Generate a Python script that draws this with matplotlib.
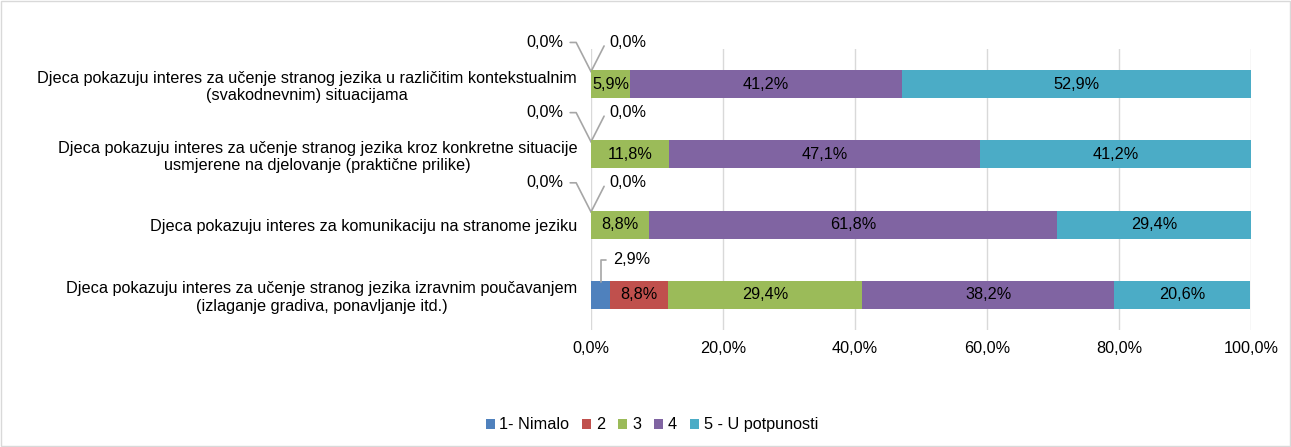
import numpy as np
import matplotlib.pyplot as plt
from matplotlib.patches import Rectangle

plt.rcParams['font.family'] = ['Liberation Sans', 'DejaVu Sans']
FS = 11.7

categories = [
    "Djeca pokazuju interes za učenje stranog jezika u različitim kontekstualnim\n(svakodnevnim) situacijama",
    "Djeca pokazuju interes za učenje stranog jezika kroz konkretne situacije\nusmjerene na djelovanje (praktične prilike)",
    "Djeca pokazuju interes za komunikaciju na stranome jeziku",
    "Djeca pokazuju interes za učenje stranog jezika izravnim poučavanjem\n(izlaganje gradiva, ponavljanje itd.)",
]
series_names = ["1- Nimalo", "2", "3", "4", "5 - U potpunosti"]
s1 = [0.0, 0.0, 0.0, 2.9]
s2 = [0.0, 0.0, 0.0, 8.8]
s3 = [5.9, 11.8, 8.8, 29.4]
s4 = [41.2, 47.1, 61.8, 38.2]
s5 = [52.9, 41.2, 29.4, 20.6]
colors = ["#4F81BD", "#C0504D", "#9BBB59", "#8064A2", "#4BACC6"]

fig = plt.figure(figsize=(12.91, 4.47), dpi=100)
fig.patches.append(Rectangle((0.001, 0.002), 0.998, 0.996, transform=fig.transFigure,
                             fill=False, edgecolor="#D9D9D9", linewidth=1))
ax = fig.add_axes([0.4578, 0.262, 0.5112, 0.628])

data = [s1, s2, s3, s4, s5]
y = np.arange(len(categories))
left = np.zeros(len(categories))
bh = 0.4
for k, (vals, name, col) in enumerate(zip(data, series_names, colors)):
    vals = np.array(vals)
    ax.barh(y, vals, left=left, height=bh, color=col, label=name, zorder=3)
    for i, v in enumerate(vals):
        txt = f"{v:.1f}%".replace(".", ",")
        if v >= 4:
            ax.text(left[i] + v / 2, y[i], txt, ha="center", va="center",
                    fontsize=FS, color="black", zorder=4)
        else:
            # small/zero values get a label outside with a leader line
            if k == 0 and v == 0:
                off, ang, ha = (-20, 21), 117, "right"
            elif k == 0:
                off, ang, ha = (9, 16), 90, "left"
            else:
                off, ang, ha = (13, 21), 63, "left"
            ax.annotate(txt, xy=(left[i] + v / 2, y[i] - bh / 2 + 0.02), xytext=off,
                        textcoords="offset points", ha=ha, va="center", fontsize=FS,
                        arrowprops=dict(arrowstyle="-", color="#A6A6A6", lw=1.2,
                                        shrinkA=3, shrinkB=0,
                                        connectionstyle=f"angle,angleA=0,angleB={ang},rad=0"))
    left += vals

ax.set_xlim(0, 100)
ax.set_ylim(len(categories) - 0.5, -0.5)
ax.set_yticks(y)
ax.set_yticklabels(categories, fontsize=FS, multialignment="center")
ax.set_xticks(np.arange(0, 101, 20))
ax.set_xticklabels([f"{t:.1f}%".replace(".", ",") for t in np.arange(0, 101, 20)], fontsize=FS)
ax.tick_params(axis="both", length=0, pad=8)
ax.tick_params(axis="y", pad=10)
ax.grid(axis="x", color="#D9D9D9", linewidth=1, zorder=0)
for s in ax.spines.values():
    s.set_visible(False)

fig.legend(loc="lower center", bbox_to_anchor=(0.505, 0.0), ncol=5, frameon=False,
           fontsize=FS, handlelength=0.55, handleheight=0.55, handletextpad=0.3,
           columnspacing=0.8)

fig.savefig("out.png", dpi=100)
